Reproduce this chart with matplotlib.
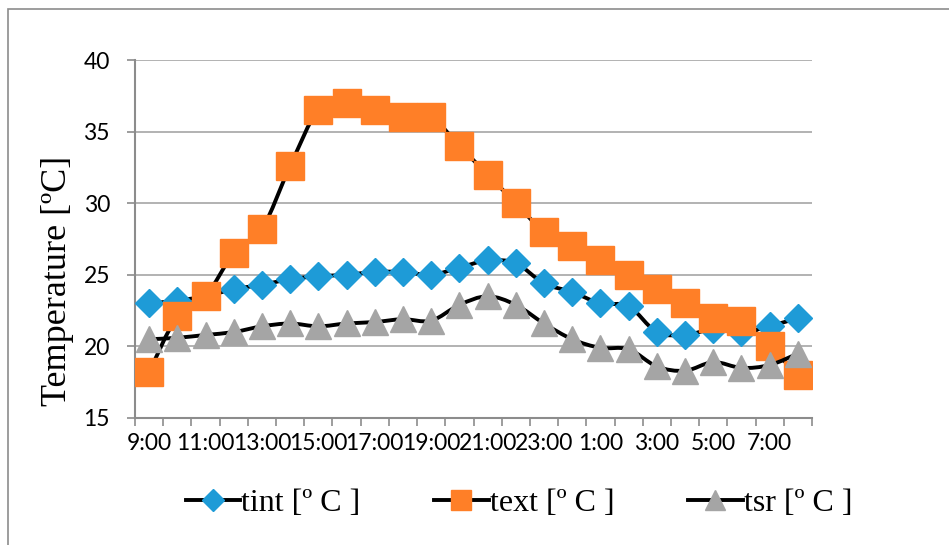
import numpy as np
import matplotlib.pyplot as plt
from matplotlib.path import Path
from matplotlib.patches import PathPatch, Rectangle
from matplotlib.lines import Line2D

# hourly readings, 9:00 to 8:00 next day
hours = ['9:00', '10:00', '11:00', '12:00', '13:00', '14:00', '15:00', '16:00',
         '17:00', '18:00', '19:00', '20:00', '21:00', '22:00', '23:00', '0:00',
         '1:00', '2:00', '3:00', '4:00', '5:00', '6:00', '7:00', '8:00']
tint = [23.0, 23.2, 23.5, 24.0, 24.3, 24.7, 24.9, 25.0, 25.2, 25.2, 25.0, 25.5,
        26.0, 25.8, 24.4, 23.8, 23.0, 22.8, 21.0, 20.8, 21.2, 21.0, 21.4, 22.0]
text = [18.2, 22.1, 23.5, 26.5, 28.2, 32.6, 36.5, 37.0, 36.5, 36.0, 36.0, 34.0,
        32.0, 30.0, 28.0, 27.0, 26.0, 25.0, 24.0, 23.0, 22.0, 21.8, 20.0, 18.0]
tsr = [20.5, 20.6, 20.8, 21.0, 21.4, 21.6, 21.4, 21.6, 21.7, 21.9, 21.8, 22.9,
       23.5, 22.9, 21.6, 20.5, 19.9, 19.8, 18.6, 18.3, 18.9, 18.5, 18.7, 19.5]

series = [
    ('tint [º C ]', tint, 'D', 14.5, '#1E9BD7'),
    ('text [º C ]', text, 's', 20, '#FF7F27'),
    ('tsr [º C ]', tsr, '^', 19, '#A5A5A5'),
]


def smooth_path(xs, ys):
    # Excel-style smoothed line: cubic Bezier segments through the points
    verts = [(xs[0], ys[0])]
    codes = [Path.MOVETO]
    n = len(xs)
    for i in range(n - 1):
        x0, y0 = xs[max(i - 1, 0)], ys[max(i - 1, 0)]
        x1, y1 = xs[i], ys[i]
        x2, y2 = xs[i + 1], ys[i + 1]
        x3, y3 = xs[min(i + 2, n - 1)], ys[min(i + 2, n - 1)]
        verts += [(x1 + (x2 - x0) / 6, y1 + (y2 - y0) / 6),
                  (x2 - (x3 - x1) / 6, y2 - (y3 - y1) / 6),
                  (x2, y2)]
        codes += [Path.CURVE4] * 3
    return Path(verts, codes)


fig = plt.figure(figsize=(9.49, 5.45), dpi=100)
ax = fig.add_axes([135 / 949, 1 - 418 / 545, 677 / 949, 358 / 545])

x = np.arange(len(hours))
handles = []
z = 3
for name, vals, mk, ms, col in series:
    ax.add_patch(PathPatch(smooth_path(x, vals), facecolor='none', edgecolor='black',
                           lw=2.8, zorder=z, capstyle='round', joinstyle='round'))
    ax.plot(x, vals, linestyle='none', marker=mk, ms=ms, mfc=col, mec=col, zorder=z + 0.5)
    handles.append(Line2D([], [], color='black', lw=2.8, marker=mk, ms=ms * 0.75,
                          mfc=col, mec=col, label=name))
    z += 1

ax.set_xlim(-0.5, len(hours) - 0.5)
ax.set_ylim(15, 40)
ax.set_yticks([15, 20, 25, 30, 35, 40])
ax.yaxis.grid(True, color='#A6A6A6', lw=1.2)
ax.set_axisbelow(True)

tick_font = ['Lato', 'DejaVu Sans']

# tick marks on category boundaries, labels on every second category
ax.set_xticks(np.arange(len(hours) + 1) - 0.5)
ax.set_xticklabels([])
ax.set_xticks(x[::2], minor=True)
ax.set_xticklabels(hours[::2], minor=True, fontfamily=tick_font, fontsize=16.5)
ax.tick_params(axis='x', which='major', length=6, color='#8C8C8C', width=1.2)
ax.tick_params(axis='x', which='minor', length=0, pad=11)
ax.tick_params(axis='y', length=6, color='#8C8C8C', width=1.2, pad=12, labelsize=16.5)
for lbl in ax.get_yticklabels():
    lbl.set_fontfamily(tick_font)

for s in ['top', 'right']:
    ax.spines[s].set_visible(False)
for s in ['left', 'bottom']:
    ax.spines[s].set_color('#8C8C8C')
    ax.spines[s].set_linewidth(1.5)

fig.text(0.061, 1 - 281 / 545, 'Temperature [ºC]', rotation=90, ha='center', va='center',
         fontfamily='Liberation Serif', fontsize=26)

fig.legend(handles=handles, loc='center', bbox_to_anchor=(0.547, 0.077), ncol=3,
           frameon=False, prop={'family': 'Liberation Serif', 'size': 23},
           handlelength=1.7, handletextpad=0.05, columnspacing=2.3)

# chart border
fig.patches.append(Rectangle((8 / 949, -0.2), 1.5, 1.2 - 9 / 545, transform=fig.transFigure,
                             facecolor='none', edgecolor='#8C8C8C', lw=1.2))

fig.savefig('out.png', dpi=100)
